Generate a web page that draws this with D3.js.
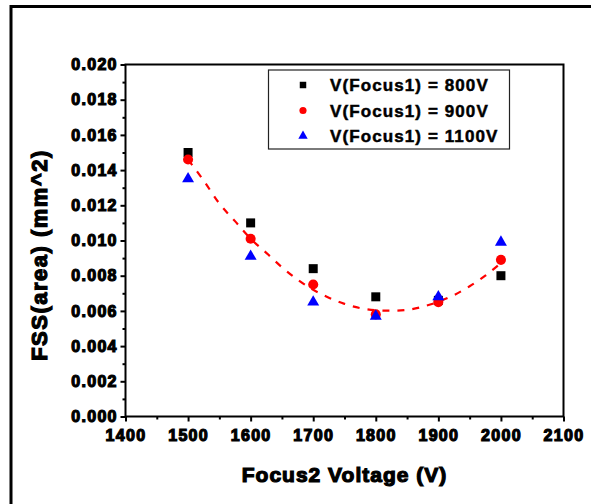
<!DOCTYPE html>
<html>
<head>
<meta charset="utf-8">
<script src="https://cdn.jsdelivr.net/npm/d3@7"></script>
<style>
  html, body { margin: 0; padding: 0; background: #fff; }
  svg { display: block; }
  .tick-label { font-family: "Liberation Sans", Arial, sans-serif; font-weight: bold; }
</style>
</head>
<body>
<svg id="chart" width="591" height="504"></svg>
<script>
// Focus2 voltage settings (V)
const voltages = [1500, 1600, 1700, 1800, 1900, 2000];
// Focal spot size (area, mm^2) for each Focus1 voltage
const fss800 = [0.0150, 0.0110, 0.0084, 0.0068, 0.0066, 0.0080];
const fss900 = [0.0146, 0.0101, 0.0075, 0.0058, 0.0065, 0.0089];
const fss1100 = [0.0135, 0.0091, 0.0065, 0.0057, 0.0068, 0.0099];
// Fitted trend through the 900 V series
const fitVoltages = [1500, 1525, 1550, 1575, 1600, 1625, 1650, 1675, 1700, 1725, 1750,
                     1775, 1800, 1825, 1850, 1875, 1900, 1925, 1950, 1975, 2000];
const fitValues = [0.0146, 0.0134, 0.0121, 0.0111, 0.0101, 0.0093, 0.00848, 0.00778, 0.00720,
                   0.00675, 0.00640, 0.00616, 0.00604, 0.00601, 0.00606, 0.00624, 0.00652,
                   0.00690, 0.00740, 0.00800, 0.00872];
// Axis ticks
const xTicks = [1400, 1500, 1600, 1700, 1800, 1900, 2000, 2100];
const yTicks = [0.000, 0.002, 0.004, 0.006, 0.008, 0.010, 0.012, 0.014, 0.016, 0.018, 0.020];
const legendLabels = ["V(Focus1) = 800V", "V(Focus1) = 900V", "V(Focus1) = 1100V"];

const svg = d3.select("#chart");
const plotLeft = 125.5, plotRight = 563.5, plotTop = 64.5, plotBottom = 416.5;

const x = d3.scaleLinear().domain([1400, 2100]).range([plotLeft, plotRight]);
const y = d3.scaleLinear().domain([0, 0.020]).range([plotBottom, plotTop]);

// Outer frame
svg.append("path")
  .attr("d", `M11,520 L11,6.5 L600,6.5`)
  .attr("fill", "none").attr("stroke", "#000").attr("stroke-width", 3);

// Axes
const xAxis = svg.append("g").attr("transform", `translate(0,${plotBottom})`)
  .call(d3.axisBottom(x).tickValues(xTicks).tickSize(5).tickPadding(8).tickFormat(d3.format("d")));
const xMinor = svg.append("g").attr("transform", `translate(0,${plotBottom})`)
  .call(d3.axisBottom(x).tickValues(d3.range(1450, 2100, 100)).tickSize(3).tickFormat(""));
const yAxis = svg.append("g").attr("transform", `translate(${plotLeft},0)`)
  .call(d3.axisLeft(y).tickValues(yTicks).tickSize(5).tickPadding(4).tickFormat(d3.format(".3f")));
const yMinor = svg.append("g").attr("transform", `translate(${plotLeft},0)`)
  .call(d3.axisLeft(y).tickValues(d3.range(0.001, 0.020, 0.002)).tickSize(3).tickFormat(""));

[xAxis, xMinor, yAxis, yMinor].forEach(g => {
  g.select(".domain").remove();
  g.selectAll(".tick line").attr("stroke", "#000").attr("stroke-width", 2);
  g.selectAll(".tick text")
    .attr("class", "tick-label")
    .attr("fill", "#000").attr("stroke", "#000").attr("stroke-width", 1.2)
    .style("font-size", "16px").style("letter-spacing", "1.3px");
});
// Compensate trailing letter spacing on right-anchored labels
yAxis.selectAll(".tick text").attr("dx", "1.3px");

// Plot box
svg.append("rect")
  .attr("x", plotLeft).attr("y", plotTop)
  .attr("width", plotRight - plotLeft).attr("height", plotBottom - plotTop)
  .attr("fill", "none").attr("stroke", "#000").attr("stroke-width", 2);

// Axis titles
svg.append("text")
  .attr("x", (plotLeft + plotRight) / 2).attr("y", 482)
  .attr("text-anchor", "middle")
  .attr("font-family", "Liberation Sans, Arial, sans-serif")
  .attr("font-weight", "bold").attr("font-size", 21)
  .style("letter-spacing", "1px")
  .attr("fill", "#000").attr("stroke", "#000").attr("stroke-width", 1.2)
  .text("Focus2 Voltage (V)");

svg.append("text")
  .attr("transform", `translate(47,255) rotate(-90)`)
  .attr("text-anchor", "middle")
  .attr("font-family", "Liberation Sans, Arial, sans-serif")
  .attr("font-weight", "bold").attr("font-size", 22)
  .style("letter-spacing", "1.5px")
  .attr("fill", "#000").attr("stroke", "#000").attr("stroke-width", 1.2)
  .text("FSS(area) (mm^2)");

// Fitted dashed curve
const fitData = fitVoltages.map((v, i) => [v, fitValues[i]]);
svg.append("path")
  .datum(fitData)
  .attr("d", d3.line().x(d => x(d[0])).y(d => y(d[1])).curve(d3.curveMonotoneX))
  .attr("fill", "none").attr("stroke", "#ff0000").attr("stroke-width", 2.2)
  .attr("stroke-dasharray", "7,8");

// Markers
const series = [
  { values: fss800, color: "#000000", shape: d3.symbolSquare, size: 81, legendSize: 42 },
  { values: fss900, color: "#ff0000", shape: d3.symbolCircle, size: 80, legendSize: 40 },
  { values: fss1100, color: "#0000ff", shape: d3.symbolTriangle, size: 62, legendSize: 38 }
];

series.forEach(s => {
  svg.append("g").selectAll("path")
    .data(voltages.map((v, i) => [v, s.values[i]]))
    .join("path")
    .attr("transform", d => `translate(${x(d[0])},${y(d[1])})`)
    .attr("d", d3.symbol().type(s.shape).size(s.size))
    .attr("fill", s.color);
});

// Legend
const legend = svg.append("g");
legend.append("rect")
  .attr("x", 268.5).attr("y", 70).attr("width", 241).attr("height", 79)
  .attr("fill", "#fff").attr("stroke", "#222").attr("stroke-width", 1.2);

series.forEach((s, i) => {
  const cy = 85 + i * 25.5;
  legend.append("path")
    .attr("transform", `translate(303,${cy})`)
    .attr("d", d3.symbol().type(s.shape).size(s.legendSize))
    .attr("fill", s.color);
  legend.append("text")
    .attr("x", 330).attr("y", cy + 6)
    .attr("font-family", "Liberation Sans, Arial, sans-serif")
    .attr("font-weight", "bold").attr("font-size", 17)
    .style("letter-spacing", "1.1px")
    .attr("fill", "#000").attr("stroke", "#000").attr("stroke-width", 0.5)
    .text(legendLabels[i]);
});
</script>
</body>
</html>
